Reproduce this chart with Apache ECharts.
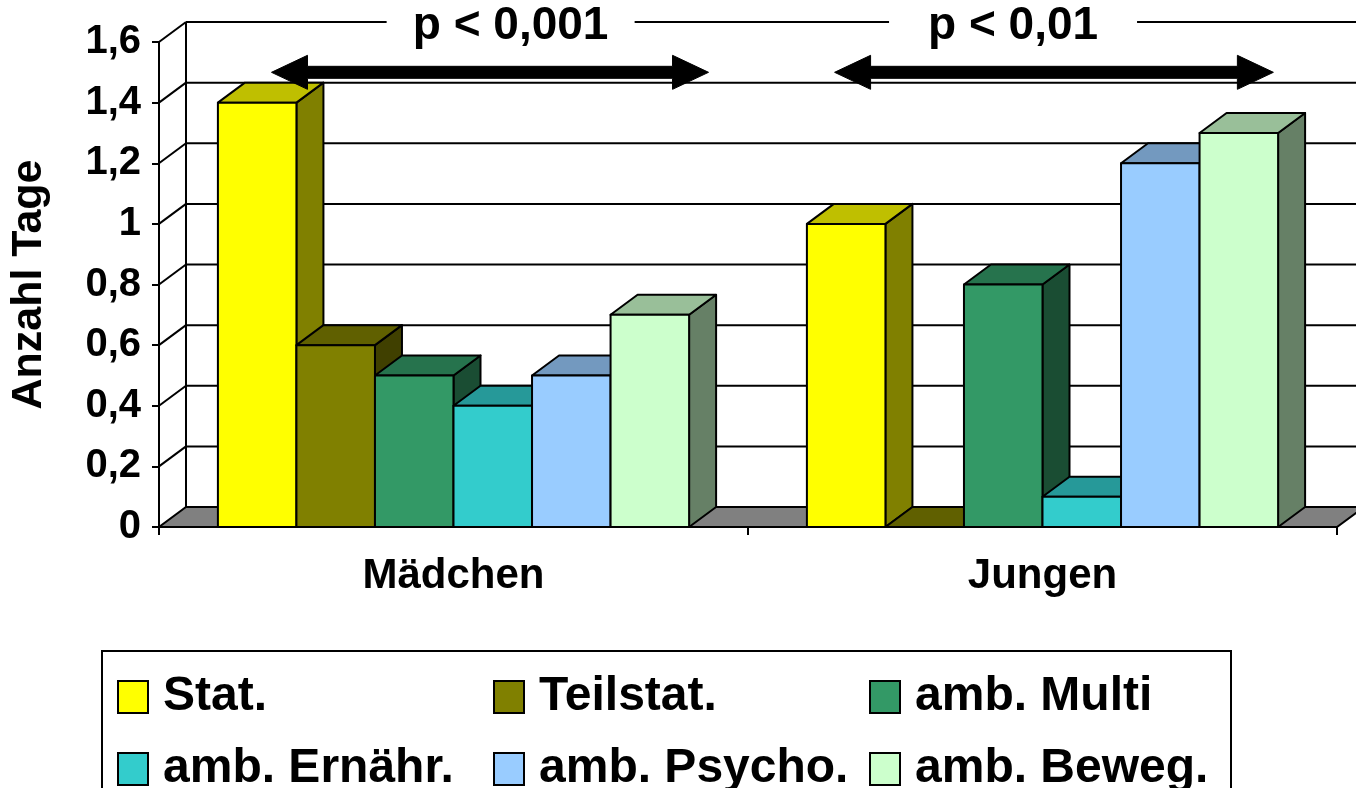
<!DOCTYPE html>
<html>
<head>
<meta charset="utf-8">
<script src="https://cdn.jsdelivr.net/npm/echarts@6.0.0/dist/echarts.min.js"></script>
<style>
  html, body { margin: 0; padding: 0; background: #fff; }
  #chart { width: 1356px; height: 788px; }
</style>
</head>
<body>
<div id="chart"></div>
<script>
// ---------- data ----------
const categories = ['Mädchen', 'Jungen'];
const seriesNames = ['Stat.', 'Teilstat.', 'amb. Multi', 'amb. Ernähr.', 'amb. Psycho.', 'amb. Beweg.'];
const stat       = [1.4, 1.0];
const teilstat   = [0.6, 0.0];
const ambMulti   = [0.5, 0.8];
const ambErnaehr = [0.4, 0.1];
const ambPsycho  = [0.5, 1.2];
const ambBeweg   = [0.7, 1.3];
const yTicks = [0, 0.2, 0.4, 0.6, 0.8, 1.0, 1.2, 1.4, 1.6];
const pLabels = ['p < 0,001', 'p < 0,01'];
const yAxisTitle = 'Anzahl Tage';

const seriesValues = [stat, teilstat, ambMulti, ambErnaehr, ambPsycho, ambBeweg];

// ---------- styles ----------
const FONT = "'Liberation Sans', Arial, sans-serif";
const frontColors = ['#FFFF00', '#808000', '#339966', '#33CCCC', '#99CCFF', '#CCFFCC'];
function shade(hex, f) {
  const n = parseInt(hex.slice(1), 16);
  const r = Math.round(((n >> 16) & 255) * f);
  const g = Math.round(((n >> 8) & 255) * f);
  const b = Math.round((n & 255) * f);
  return 'rgb(' + r + ',' + g + ',' + b + ')';
}
const DX = 27, DY = -20;          // depth offset of the 3D look
const GROUP_FRAC = 0.8;           // share of a category used by the bar group
const LW = 2;

// annotation layout (fractions of a category width relative to its centre)
const annLayout = [
  { from: -0.309, to: 0.433, text: 0.097 },
  { from: -0.353, to: 0.392, text: -0.050 }
];
const ARROW_VALUE = 1.5;
const TEXT_VALUE = 1.651;

// ---------- render functions ----------
function renderWalls(params, api) {
  const v = api.value(1);
  const cs = params.coordSys;
  const y = api.coord([0, v])[1];
  const xL = cs.x, xR = cs.x + cs.width;
  const st = { stroke: '#000', lineWidth: LW, fill: null };
  const children = [];
  if (v === 0) {
    children.push({ type: 'polygon', shape: { points: [[xL, y], [xR, y], [xR + DX, y + DY], [xL + DX, y + DY]] },
      style: { fill: '#808080', stroke: '#000', lineWidth: LW } });
    children.push({ type: 'line', shape: { x1: xL + DX, y1: y + DY, x2: xL + DX, y2: cs.y + DY }, style: st });
  } else {
    children.push({ type: 'line', shape: { x1: xL, y1: y, x2: xL + DX, y2: y + DY }, style: st });
    children.push({ type: 'line', shape: { x1: xL + DX, y1: y + DY, x2: xR + DX + 40, y2: y + DY }, style: st });
  }
  return { type: 'group', children };
}

function makeBarRenderer(i) {
  const nSeries = seriesValues.length;
  const front = frontColors[i], top = shade(front, 0.75), side = shade(front, 0.5);
  return function (params, api) {
    const c = api.value(0), v = api.value(1);
    const base = api.coord([c, 0]);
    const tp = api.coord([c, v]);
    const cw = api.size([1, 0])[0];
    const bw = cw * GROUP_FRAC / nSeries;
    const x0 = base[0] - cw * GROUP_FRAC / 2 + i * bw;
    const x1 = x0 + bw;
    const yb = base[1], yt = tp[1];
    const st = (fill) => ({ fill: fill, stroke: '#000', lineWidth: LW, lineJoin: 'round' });
    const children = [];
    children.push({ type: 'polygon', shape: { points: [[x1, yt], [x1 + DX, yt + DY], [x1 + DX, yb + DY], [x1, yb]] }, style: st(side) });
    children.push({ type: 'polygon', shape: { points: [[x0, yt], [x1, yt], [x1 + DX, yt + DY], [x0 + DX, yt + DY]] }, style: st(top) });
    if (yb - yt > 0.5) {
      children.push({ type: 'rect', shape: { x: x0, y: yt, width: bw, height: yb - yt }, style: st(front) });
    }
    return { type: 'group', children };
  };
}

function renderAnnotations(params, api) {
  const c = api.value(0);
  const L = annLayout[c];
  const ctr = api.coord([c, ARROW_VALUE]);
  const cw = api.size([1, 0])[0];
  const y = ctr[1];
  const xL = ctr[0] + L.from * cw, xR = ctr[0] + L.to * cw;
  const hl = 36, hh = 17, sh = 6;
  const pts = [[xL, y], [xL + hl, y - hh], [xL + hl, y - sh], [xR - hl, y - sh], [xR - hl, y - hh], [xR, y],
               [xR - hl, y + hh], [xR - hl, y + sh], [xL + hl, y + sh], [xL + hl, y + hh]];
  const tx = ctr[0] + L.text * cw;
  const ty = api.coord([c, TEXT_VALUE])[1];
  return {
    type: 'group',
    children: [
      { type: 'rect', shape: { x: tx - 124, y: ty - 22, width: 248, height: 42 }, style: { fill: '#fff' } },
      { type: 'text', style: { text: pLabels[c], x: tx, y: ty, align: 'center', verticalAlign: 'middle',
          font: 'bold 46px ' + FONT, fill: '#000' } },
      { type: 'polygon', shape: { points: pts }, style: { fill: '#000', stroke: '#000', lineWidth: 1 } }
    ]
  };
}

// ---------- option ----------
const series = [];
series.push({
  type: 'custom', name: '__walls', renderItem: renderWalls, silent: true, z: 1,
  data: yTicks.map(v => [0, v]), encode: { x: 0, y: 1 }
});
seriesValues.forEach((vals, i) => {
  series.push({
    type: 'custom', name: seriesNames[i], renderItem: makeBarRenderer(i), z: 2,
    itemStyle: { color: frontColors[i] },
    data: vals.map((v, c) => [c, v]), encode: { x: 0, y: 1 }
  });
});
series.push({
  type: 'custom', name: '__ann', renderItem: renderAnnotations, silent: true, z: 3,
  data: categories.map((c, i) => [i, ARROW_VALUE]), encode: { x: 0, y: 1 }
});

const legendCols = [117, 493, 869];
const legendRows = [673, 745];
const legends = seriesNames.map((name, i) => ({
  data: [name],
  left: legendCols[i % 3],
  top: legendRows[Math.floor(i / 3)],
  padding: 0,
  icon: 'rect',
  itemWidth: 30,
  itemHeight: 32,
  itemStyle: { borderColor: '#000', borderWidth: 2 },
  selectedMode: false,
  textStyle: { fontSize: 48, fontWeight: 'bold', fontFamily: FONT, color: '#000', lineHeight: 30, padding: [0, 0, 0, 10] }
}));

const option = {
  animation: false,
  backgroundColor: '#fff',
  grid: { left: 155, right: 19, top: 42, bottom: 261, containLabel: false },
  xAxis: {
    type: 'category',
    data: categories,
    boundaryGap: true,
    axisLine: { lineStyle: { color: '#000', width: 2 } },
    axisTick: { show: true, length: 8, lineStyle: { color: '#000', width: 2 } },
    axisLabel: { color: '#000', fontSize: 42, fontWeight: 'bold', fontFamily: FONT, margin: 28 },
    splitLine: { show: false }
  },
  yAxis: {
    type: 'value',
    min: 0, max: 1.6, interval: 0.2,
    name: yAxisTitle,
    nameLocation: 'middle',
    nameRotate: 90,
    nameGap: 108,
    nameTextStyle: { color: '#000', fontSize: 43, fontWeight: 'bold', fontFamily: FONT },
    axisLine: { show: true, lineStyle: { color: '#000', width: 2 } },
    axisTick: { show: true, length: 7, lineStyle: { color: '#000', width: 2 } },
    axisLabel: { color: '#000', fontSize: 40, fontWeight: 'bold', fontFamily: FONT, margin: 18,
      formatter: v => String(Math.round(v * 10) / 10).replace('.', ',') },
    splitLine: { show: false }
  },
  legend: legends,
  graphic: [{
    type: 'rect', z: 0,
    shape: { x: 102, y: 651, width: 1129, height: 170 },
    style: { fill: null, stroke: '#000', lineWidth: 2 }
  }],
  series: series
};

const chart = echarts.init(document.getElementById('chart'), null, { renderer: 'canvas' });
chart.setOption(option);
</script>
</body>
</html>
